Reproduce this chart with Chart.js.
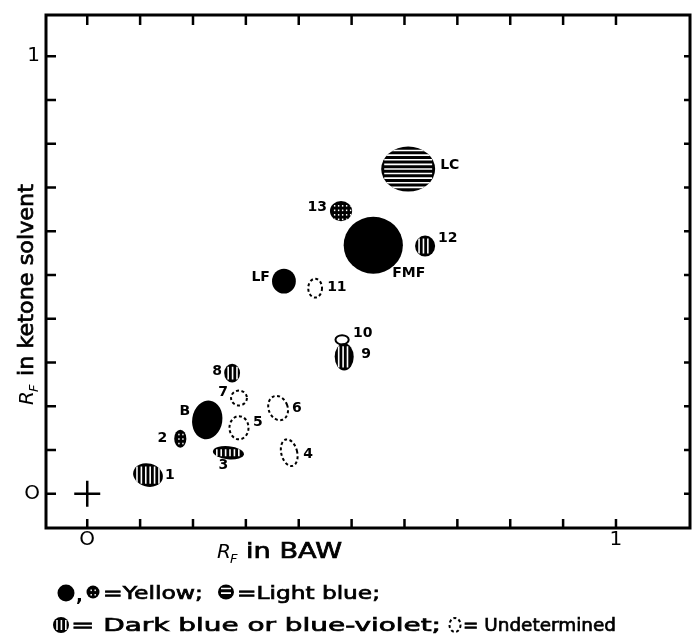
<!DOCTYPE html>
<html>
<head>
<meta charset="utf-8">
<script src="https://cdn.jsdelivr.net/npm/chart.js@4.4.1/dist/chart.umd.min.js"></script>
<style>
  html, body { margin: 0; padding: 0; background: #fff; }
  canvas { display: block; }
</style>
</head>
<body>
<canvas id="rfChart" width="692" height="639"></canvas>
<script>
// spot data: Rf in BAW (x), Rf in ketone solvent (y), spot extent (w, h) in Rf units
const spotNames = ['LC', '13', 'FMF', '12', 'LF', '11', '10', '9', '8', '7', 'B', '6', '5', '2', '4', '3', '1'];
const spotX = [0.607, 0.480, 0.541, 0.639, 0.372, 0.431, 0.482, 0.486, 0.274, 0.287, 0.227, 0.361, 0.287, 0.176, 0.382, 0.267, 0.115];
const spotY = [0.742, 0.646, 0.568, 0.566, 0.486, 0.470, 0.352, 0.313, 0.276, 0.219, 0.169, 0.196, 0.151, 0.126, 0.094, 0.094, 0.043];
const spotW = [0.102, 0.042, 0.112, 0.038, 0.045, 0.026, 0.025, 0.036, 0.030, 0.030, 0.057, 0.036, 0.036, 0.023, 0.030, 0.059, 0.057];
const spotH = [0.103, 0.046, 0.130, 0.048, 0.057, 0.043, 0.021, 0.062, 0.043, 0.034, 0.089, 0.057, 0.053, 0.041, 0.062, 0.030, 0.053];
// colour class of each spot
const spotKind = ['hstripe', 'stipple', 'solid', 'vstripe', 'solid', 'dashed', 'outline', 'vstripe', 'vstripe', 'dashed',
                  'solid', 'dashed', 'dashed', 'stipple', 'dashed', 'vstripe', 'vstripe'];
const tickValues = [0, 0.1, 0.2, 0.3, 0.4, 0.5, 0.6, 0.7, 0.8, 0.9, 1];
const origin = [{ x: 0, y: 0 }];

// label placement (px from spot centre) and tilt, purely cosmetic
const labelPos = {
  'LC': [32, -4, 'left'], '13': [-14, -4, 'right'], 'FMF': [19, 28, 'left'], '12': [13, -8, 'left'],
  'LF': [-14, -4, 'right'], '11': [12, -1, 'left'], '10': [11, -6, 'left'], '9': [17, -2, 'left'],
  '8': [-10, -2, 'right'], '7': [-11, -6, 'right'], 'B': [-17, -9, 'right'], '6': [14, 0, 'left'],
  '5': [14, -5, 'left'], '2': [-13, 0, 'right'], '4': [14, 2, 'left'], '3': [-5, 13, 'center'], '1': [17, 0, 'left']
};
const tilt = { '1': 0.25, '3': 0.1, '6': -0.35, '4': -0.25, 'B': 0.15 };

const FONT = '"DejaVu Sans", sans-serif';

function drawSpot(c, x, y, rx, ry, kind, rot) {
  c.save();
  c.beginPath();
  c.ellipse(x, y, rx, ry, rot || 0, 0, Math.PI * 2);
  if (kind === 'dashed' || kind === 'outline') {
    c.lineWidth = 2;
    c.strokeStyle = '#000';
    c.setLineDash(kind === 'dashed' ? [3, 2.5] : []);
    c.stroke();
    c.restore();
    return;
  }
  c.fillStyle = '#000';
  c.fill();
  if (kind !== 'solid') {
    c.clip();
    c.strokeStyle = '#fff';
    c.fillStyle = '#fff';
    c.lineWidth = 1.6;
    const inset = 3;
    if (kind === 'hstripe') {
      for (let yy = y - ry + inset + 1; yy < y + ry - inset; yy += 4.6) {
        c.beginPath();
        c.moveTo(x - rx + inset, yy);
        c.lineTo(x + rx - inset, yy);
        c.stroke();
      }
    } else if (kind === 'vstripe') {
      for (let xx = x - rx + inset + 1; xx < x + rx - inset; xx += 4.4) {
        c.beginPath();
        c.moveTo(xx, y - ry + inset);
        c.lineTo(xx, y + ry - inset);
        c.stroke();
      }
    } else if (kind === 'stipple') {
      for (let xx = x - rx + 4; xx < x + rx - 2; xx += 4) {
        for (let yy = y - ry + 4; yy < y + ry - 2; yy += 4.5) {
          c.fillRect(xx, yy, 1.4, 1.6);
        }
      }
    }
  }
  c.restore();
}

// write text so that it spans a given width (wide geometric face in the original),
// with a thin stroke to get the medium weight of the print
function fitText(c, text, x, y, width) {
  c.save();
  const w = c.measureText(text).width;
  const k = width / w;
  c.translate(x, y);
  c.scale(k, 1);
  c.fillText(text, 0, 0);
  c.strokeStyle = '#000';
  c.lineWidth = 0.7;
  c.strokeText(text, 0, 0);
  c.restore();
  return x + width;
}

const spotPlugin = {
  id: 'spots',
  afterDatasetsDraw(chart) {
    const c = chart.ctx;
    const xs = chart.scales.x, ys = chart.scales.y;
    const meta = chart.getDatasetMeta(0);
    meta.data.forEach((pt, i) => {
      const rx = Math.abs(xs.getPixelForValue(spotX[i] + spotW[i] / 2) - pt.x);
      const ry = Math.abs(ys.getPixelForValue(spotY[i] + spotH[i] / 2) - pt.y);
      const name = spotNames[i];
      drawSpot(c, pt.x, pt.y, rx, ry, spotKind[i], tilt[name]);
      const lp = labelPos[name];
      c.save();
      c.fillStyle = '#000';
      c.font = 'bold 14px ' + FONT;
      c.textAlign = lp[2];
      c.textBaseline = 'middle';
      c.fillText(name, pt.x + lp[0], pt.y + lp[1]);
      c.restore();
    });
  }
};

// frame with inward tick marks on all four sides, axis titles and key
const framePlugin = {
  id: 'frame',
  afterDraw(chart) {
    const c = chart.ctx;
    const a = chart.chartArea;
    const xs = chart.scales.x, ys = chart.scales.y;
    c.save();
    c.strokeStyle = '#000';
    c.lineWidth = 3;
    c.strokeRect(a.left, a.top, a.right - a.left, a.bottom - a.top);
    c.lineWidth = 2.5;
    tickValues.forEach(v => {
      const px = xs.getPixelForValue(v);
      const py = ys.getPixelForValue(v);
      c.beginPath();
      c.moveTo(px, a.bottom); c.lineTo(px, a.bottom - 9);
      c.moveTo(px, a.top); c.lineTo(px, a.top + 10);
      c.moveTo(a.left, py); c.lineTo(a.left + 10, py);
      c.moveTo(a.right, py); c.lineTo(a.right - 6, py);
      c.stroke();
    });

    c.fillStyle = '#000';
    c.textBaseline = 'alphabetic';
    c.textAlign = 'left';
    // x title
    c.font = 'italic 20px ' + FONT;
    c.fillText('R', 217, 558);
    c.font = 'italic 13px ' + FONT;
    c.fillText('F', 230, 563);
    c.font = '21px ' + FONT;
    fitText(c, 'in BAW', 246, 558, 96);

    // y title, rotated
    c.save();
    c.translate(33, 405);
    c.rotate(-Math.PI / 2);
    c.font = 'italic 20px ' + FONT;
    c.fillText('R', 0, 0);
    c.font = 'italic 13px ' + FONT;
    c.fillText('F', 13, 5);
    c.font = '21px ' + FONT;
    fitText(c, 'in ketone solvent', 29, 0, 192);
    c.restore();

    // key below the chart
    c.font = '18px ' + FONT;
    c.textBaseline = 'middle';
    drawSpot(c, 66, 593, 8.5, 8.5, 'solid');
    c.font = 'bold 18px ' + FONT;
    c.fillText(',', 76, 596);
    c.font = '18px ' + FONT;
    drawSpot(c, 93, 592, 6.5, 6.5, 'stipple');
    fitText(c, '=Yellow;', 103, 594, 100);
    drawSpot(c, 226, 592, 8, 7.5, 'hstripe');
    fitText(c, '=Light blue;', 237, 594, 143);
    drawSpot(c, 61, 625, 8, 8, 'vstripe');
    fitText(c, '= Dark blue or blue-violet;', 71, 626, 370);
    drawSpot(c, 455, 625, 5.5, 7, 'dashed');
    fitText(c, '= Undetermined', 463, 626, 153);
    c.restore();
  }
};

const zeroOne = v => (Math.abs(v) < 1e-6 ? 'O' : Math.abs(v - 1) < 1e-6 ? '1' : '');

new Chart(document.getElementById('rfChart').getContext('2d'), {
  type: 'scatter',
  data: {
    datasets: [
      { label: 'spots', data: spotX.map((x, i) => ({ x: x, y: spotY[i] })), pointRadius: 0, pointHoverRadius: 0 },
      { label: 'origin', data: origin, pointStyle: 'cross', pointRadius: 13, borderColor: '#000', borderWidth: 2.5 }
    ]
  },
  options: {
    responsive: false,
    animation: false,
    events: [],
    layout: { autoPadding: false, padding: { top: 15, right: 2, bottom: 0, left: 0 } },
    plugins: { legend: { display: false }, tooltip: { enabled: false } },
    scales: {
      x: {
        type: 'linear', min: -0.078, max: 1.14,
        grid: { display: false, drawTicks: false },
        border: { display: false },
        ticks: { stepSize: 0.1, includeBounds: false, autoSkip: false, maxRotation: 0, padding: 0,
                 color: '#000', font: { family: FONT, size: 20 }, callback: zeroOne },
        afterFit: s => { s.height = 111; s.paddingLeft = 0; s.paddingRight = 0; }
      },
      y: {
        type: 'linear', min: -0.078, max: 1.094,
        grid: { display: false, drawTicks: false },
        border: { display: false },
        ticks: { stepSize: 0.1, includeBounds: false, autoSkip: false, padding: 6,
                 color: '#000', font: { family: FONT, size: 20 }, callback: zeroOne },
        afterFit: s => { s.width = 46; s.paddingTop = 0; s.paddingBottom = 0; }
      }
    }
  },
  plugins: [spotPlugin, framePlugin]
});
</script>
</body>
</html>
